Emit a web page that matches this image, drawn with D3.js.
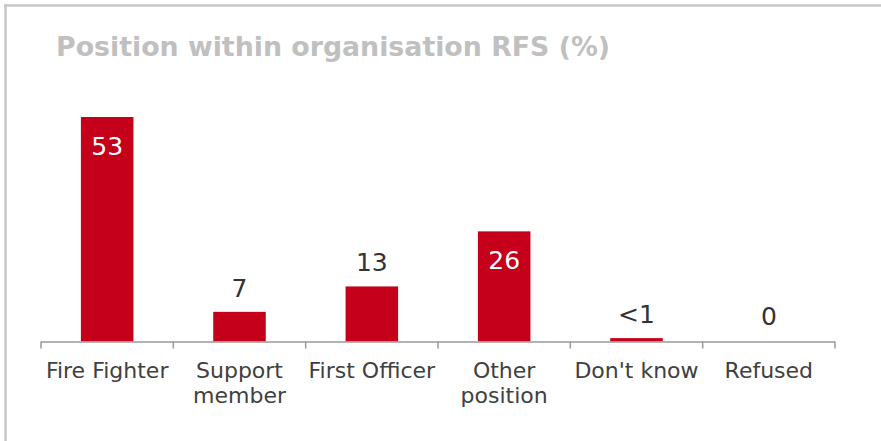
<!DOCTYPE html>
<html><head><meta charset="utf-8">
<script src="https://cdn.jsdelivr.net/npm/d3@7"></script>
<style>body{margin:0;background:#fff}svg{display:block}</style>
</head><body>
<svg id="c" width="881" height="441"></svg>
<script>
const categories = ["Fire Fighter", "Support\nmember", "First Officer", "Other\nposition", "Don't know", "Refused"];
const values = [53, 7, 13, 26, 0.8, 0];
const valueLabels = ["53", "7", "13", "26", "<1", "0"];
const title = "Position within organisation RFS (%)";

const svg = d3.select("#c");
const font = "DejaVu Sans, Verdana, sans-serif";

// frame
svg.append("line").attr("x1",4).attr("x2",881).attr("y1",5.5).attr("y2",5.5).attr("stroke","#c8c8c8").attr("stroke-width",2.5);
svg.append("line").attr("x1",5.5).attr("x2",5.5).attr("y1",4).attr("y2",441).attr("stroke","#c8c8c8").attr("stroke-width",2.5);

svg.append("text").attr("x",56).attr("y",56).text(title)
  .attr("font-family",font).attr("font-weight","bold").attr("font-size",26)
  .attr("textLength",554).attr("lengthAdjust","spacingAndGlyphs").attr("fill","#c0c0c0");

const base = 341.5;
const x = d3.scaleBand().domain(categories).range([41, 835]).paddingInner(0.603).paddingOuter(0.3015);
const y = d3.scaleLinear().domain([0, 53]).range([base, 117]);

const g = svg.append("g");
g.selectAll("rect.bar").data(values).join("rect")
  .attr("x",(d,i)=>x(categories[i])).attr("width",x.bandwidth())
  .attr("y",d=>y(d)).attr("height",d=>base-y(d)).attr("fill","#c4001a");

// axis
const step = x.step();
g.append("line").attr("x1",41).attr("x2",835).attr("y1",base+0.5).attr("y2",base+0.5).attr("stroke","#9a9a9a").attr("stroke-width",1.5);
d3.range(categories.length+1).forEach(k=>{
  const tx = 41 + k*step;
  g.append("line").attr("x1",tx).attr("x2",tx).attr("y1",base).attr("y2",base+7).attr("stroke","#9a9a9a").attr("stroke-width",1.5);
});

// category labels
categories.forEach((c,i)=>{
  const cx = x(c)+x.bandwidth()/2;
  const t = g.append("text").attr("text-anchor","middle").attr("font-family",font).attr("font-size",22).attr("fill","#404040");
  c.split("\n").forEach((line,j)=>{
    t.append("tspan").attr("x",cx).attr("y",378 + j*25).text(line);
  });
});

// value labels
values.forEach((v,i)=>{
  const cx = x(categories[i])+x.bandwidth()/2;
  const inside = v > 20;
  g.append("text").attr("x",cx).attr("y", inside ? y(v)+38 : Math.min(y(v)-15, 325))
    .attr("text-anchor","middle").attr("font-family",font).attr("font-size",25)
    .attr("fill", inside ? "#ffffff" : "#333333").text(valueLabels[i]);
});
</script>
</body></html>
